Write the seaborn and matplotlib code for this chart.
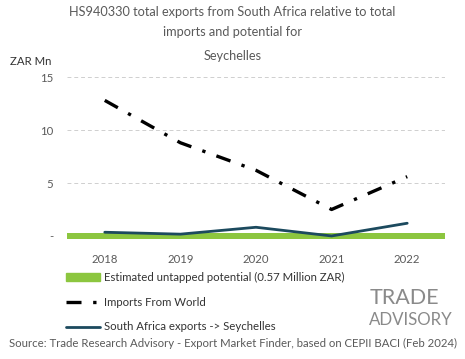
import numpy as np
import pandas as pd
import matplotlib
matplotlib.use("Agg")
import matplotlib.pyplot as plt
import seaborn as sns
from matplotlib.patches import Patch
from matplotlib.lines import Line2D

years = ["2018", "2019", "2020", "2021", "2022"]
imports_world = [12.8, 8.8, 6.2, 2.5, 5.6]
sa_exports = [0.35, 0.17, 0.82, 0.0, 1.2]
potential = [0.57, 0.57, 0.57, 0.57, 0.57]

GREEN = "#8cc63f"
TEAL = "#1c4a5e"
GREY = "#5a5a5a"
FS = 8.2

sns.set_style("white")
plt.rcParams["font.family"] = ["Lato", "DejaVu Sans"]

df = pd.DataFrame({"idx": range(len(years)), "year": years,
                   "imports": imports_world, "exports": sa_exports,
                   "potential": potential})

fig = plt.figure(figsize=(4.65, 3.59), dpi=100)
ax = fig.add_axes([0.144, 0.328, 0.813, 0.472])

# untapped potential drawn as a continuous band across the categories
ax.bar(df["idx"], df["potential"], width=1.0, bottom=-0.25, color=GREEN,
       linewidth=0, edgecolor="none", zorder=2)
sns.lineplot(data=df, x="idx", y="imports", ax=ax, color="black", lw=2.4,
             dashes=False, zorder=3).lines[-1].set_dashes([4.5, 3.5, 1, 3.5])
sns.lineplot(data=df, x="idx", y="exports", ax=ax, color=TEAL, lw=2.0, zorder=4)

ax.set_xlim(-0.5, 4.5)
ax.set_ylim(-0.5, 15.5)
ax.set_xticks(df["idx"])
ax.set_xticklabels(years)
ax.set_yticks([0, 5, 10, 15])
ax.set_yticklabels(["-", "5", "10", "15"])
ax.tick_params(axis="both", length=0, labelsize=FS, labelcolor=GREY)
ax.tick_params(axis="x", pad=9)
ax.tick_params(axis="y", pad=10)
ax.yaxis.grid(True, ls=(0, (4, 3)), color="#cfcfcf", lw=0.7)
ax.set_axisbelow(True)
ax.set_xlabel("")
ax.set_ylabel("")
for s in ax.spines.values():
    s.set_visible(False)

fig.text(0.5, 0.967, "HS940330 total exports from South Africa relative to total",
         ha="center", va="center", fontsize=9.2, color=GREY)
fig.text(0.5, 0.911, "imports and potential for", ha="center", va="center",
         fontsize=9.2, color=GREY)
fig.text(0.5, 0.844, "Seychelles", ha="center", va="center", fontsize=9.2, color=GREY)
fig.text(0.022, 0.830, "ZAR Mn", ha="left", va="center", fontsize=FS, color="#333333")

handles = [Patch(color=GREEN),
           Line2D([], [], color="black", lw=2.4, dashes=[4.5, 3.5, 1, 3.5]),
           Line2D([], [], color=TEAL, lw=2.0)]
labels = ["Estimated untapped potential (0.57 Million ZAR)",
          "Imports From World",
          "South Africa exports -> Seychelles"]
fig.legend(handles, labels, loc="upper left", bbox_to_anchor=(0.13, 0.258),
           frameon=False, fontsize=FS, labelcolor="#333333", handlelength=3.0,
           handleheight=0.6, handletextpad=0.3, labelspacing=1.2, borderpad=0)

fig.text(0.5, 0.042, "Source: Trade Research Advisory - Export Market Finder, based on CEPII BACI (Feb 2024)",
         ha="center", va="center", fontsize=FS, color=GREY)

fig.text(0.794, 0.170, "TRADE", ha="left", va="center", fontsize=15.5,
         color="#8a8a8a")
fig.text(0.794, 0.108, "ADVISORY", ha="left", va="center", fontsize=12.2,
         color="#8a8a8a")

fig.savefig("out.png", dpi=100)
